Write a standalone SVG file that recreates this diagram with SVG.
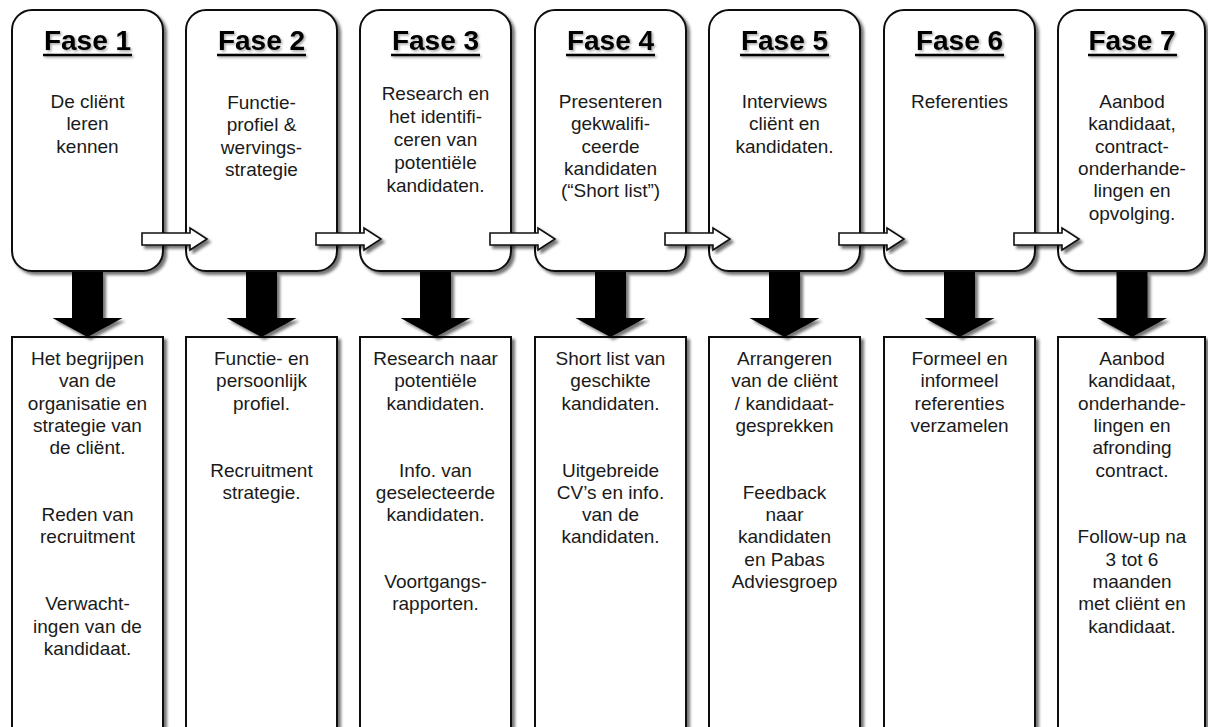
<svg xmlns="http://www.w3.org/2000/svg" width="1208" height="727" viewBox="0 0 1208 727">
<defs>
<filter id="sh" x="-10%" y="-10%" width="130%" height="130%">
<feDropShadow dx="3" dy="3" stdDeviation="1.8" flood-color="#000" flood-opacity="0.55"/>
</filter>
<filter id="tsh" x="-10%" y="-20%" width="130%" height="150%">
<feDropShadow dx="1.5" dy="1.5" stdDeviation="1" flood-color="#000" flood-opacity="0.35"/>
</filter>
<style>
.box{fill:#fff;stroke:#111;stroke-width:2;filter:url(#sh)}
.title{font-family:"Liberation Sans",Arial,sans-serif;font-weight:bold;font-size:28px;fill:#000;text-anchor:middle}
.ul{stroke:#000;stroke-width:2.6}
.t{font-family:"Liberation Sans",Arial,sans-serif;font-size:19px;fill:#1a1a1a;text-anchor:middle}
.down{fill:#000;filter:url(#sh)}
.right{fill:#fff;stroke:#111;stroke-width:1.6;filter:url(#sh)}
</style>
</defs>
<rect width="1208" height="727" fill="#fff"/>

<g id="fase1">
<rect class="box" x="12" y="10" width="151" height="261" rx="20"/>
<g filter="url(#tsh)"><text class="title" x="87.5" y="50">Fase 1</text><line class="ul" x1="43" y1="55" x2="132" y2="55"/></g>
<text class="t"><tspan x="87.5" y="108">De cliënt</tspan><tspan x="87.5" dy="22.3">leren</tspan><tspan x="87.5" dy="22.3">kennen</tspan></text>
</g>
<g id="fase2">
<rect class="box" x="186" y="10" width="151" height="261" rx="20"/>
<g filter="url(#tsh)"><text class="title" x="261.5" y="50">Fase 2</text><line class="ul" x1="217" y1="55" x2="306" y2="55"/></g>
<text class="t"><tspan x="261.5" y="109">Functie-</tspan><tspan x="261.5" dy="22.3">profiel &amp;</tspan><tspan x="261.5" dy="22.3">wervings-</tspan><tspan x="261.5" dy="22.3">strategie</tspan></text>
</g>
<g id="fase3">
<rect class="box" x="360" y="10" width="151" height="261" rx="20"/>
<g filter="url(#tsh)"><text class="title" x="435.5" y="50">Fase 3</text><line class="ul" x1="391" y1="55" x2="480" y2="55"/></g>
<text class="t"><tspan x="435.5" y="100">Research en</tspan><tspan x="435.5" dy="23">het identifi-</tspan><tspan x="435.5" dy="23">ceren van</tspan><tspan x="435.5" dy="23">potentiële</tspan><tspan x="435.5" dy="23">kandidaten.</tspan></text>
</g>
<g id="fase4">
<rect class="box" x="535" y="10" width="151" height="261" rx="20"/>
<g filter="url(#tsh)"><text class="title" x="610.5" y="50">Fase 4</text><line class="ul" x1="566" y1="55" x2="655" y2="55"/></g>
<text class="t"><tspan x="610.5" y="108">Presenteren</tspan><tspan x="610.5" dy="22.3">gekwalifi-</tspan><tspan x="610.5" dy="22.3">ceerde</tspan><tspan x="610.5" dy="22.3">kandidaten</tspan><tspan x="610.5" dy="22.3">(“Short list”)</tspan></text>
</g>
<g id="fase5">
<rect class="box" x="709" y="10" width="151" height="261" rx="20"/>
<g filter="url(#tsh)"><text class="title" x="784.5" y="50">Fase 5</text><line class="ul" x1="740" y1="55" x2="829" y2="55"/></g>
<text class="t"><tspan x="784.5" y="108">Interviews</tspan><tspan x="784.5" dy="22.3">cliënt en</tspan><tspan x="784.5" dy="22.3">kandidaten.</tspan></text>
</g>
<g id="fase6">
<rect class="box" x="884" y="10" width="151" height="261" rx="20"/>
<g filter="url(#tsh)"><text class="title" x="959.5" y="50">Fase 6</text><line class="ul" x1="915" y1="55" x2="1004" y2="55"/></g>
<text class="t"><tspan x="959.5" y="108">Referenties</tspan></text>
</g>
<g id="fase7">
<rect class="box" x="1058" y="10" width="147" height="261" rx="20"/>
<g filter="url(#tsh)"><text class="title" x="1132" y="50">Fase 7</text><line class="ul" x1="1088" y1="55" x2="1177" y2="55"/></g>
<text class="t"><tspan x="1132" y="108">Aanbod</tspan><tspan x="1132" dy="22.3">kandidaat,</tspan><tspan x="1132" dy="22.3">contract-</tspan><tspan x="1132" dy="22.3">onderhande-</tspan><tspan x="1132" dy="22.3">lingen en</tspan><tspan x="1132" dy="22.3">opvolging.</tspan></text>
</g>

<g id="detail1">
<rect class="box" x="12" y="337" width="151" height="400"/>
<text class="t"><tspan x="87.5" y="365">Het begrijpen</tspan><tspan x="87.5" dy="22.3">van de</tspan><tspan x="87.5" dy="22.3">organisatie en</tspan><tspan x="87.5" dy="22.3">strategie van</tspan><tspan x="87.5" dy="22.3">de cliënt.</tspan><tspan x="87.5" dy="66.9">Reden van</tspan><tspan x="87.5" dy="22.3">recruitment</tspan><tspan x="87.5" dy="66.9">Verwacht-</tspan><tspan x="87.5" dy="22.3">ingen van de</tspan><tspan x="87.5" dy="22.3">kandidaat.</tspan></text>
</g>
<g id="detail2">
<rect class="box" x="186" y="337" width="151" height="400"/>
<text class="t"><tspan x="261.5" y="365">Functie- en</tspan><tspan x="261.5" dy="22.3">persoonlijk</tspan><tspan x="261.5" dy="22.3">profiel.</tspan><tspan x="261.5" dy="66.9">Recruitment</tspan><tspan x="261.5" dy="22.3">strategie.</tspan></text>
</g>
<g id="detail3">
<rect class="box" x="360" y="337" width="151" height="400"/>
<text class="t"><tspan x="435.5" y="365">Research naar</tspan><tspan x="435.5" dy="22.3">potentiële</tspan><tspan x="435.5" dy="22.3">kandidaten.</tspan><tspan x="435.5" dy="66.9">Info. van</tspan><tspan x="435.5" dy="22.3">geselecteerde</tspan><tspan x="435.5" dy="22.3">kandidaten.</tspan><tspan x="435.5" dy="66.9">Voortgangs-</tspan><tspan x="435.5" dy="22.3">rapporten.</tspan></text>
</g>
<g id="detail4">
<rect class="box" x="535" y="337" width="151" height="400"/>
<text class="t"><tspan x="610.5" y="365">Short list van</tspan><tspan x="610.5" dy="22.3">geschikte</tspan><tspan x="610.5" dy="22.3">kandidaten.</tspan><tspan x="610.5" dy="66.9">Uitgebreide</tspan><tspan x="610.5" dy="22.3">CV’s en info.</tspan><tspan x="610.5" dy="22.3">van de</tspan><tspan x="610.5" dy="22.3">kandidaten.</tspan></text>
</g>
<g id="detail5">
<rect class="box" x="709" y="337" width="151" height="400"/>
<text class="t"><tspan x="784.5" y="365">Arrangeren</tspan><tspan x="784.5" dy="22.3">van de cliënt</tspan><tspan x="784.5" dy="22.3">/ kandidaat-</tspan><tspan x="784.5" dy="22.3">gesprekken</tspan><tspan x="784.5" dy="66.9">Feedback</tspan><tspan x="784.5" dy="22.3">naar</tspan><tspan x="784.5" dy="22.3">kandidaten</tspan><tspan x="784.5" dy="22.3">en Pabas</tspan><tspan x="784.5" dy="22.3">Adviesgroep</tspan></text>
</g>
<g id="detail6">
<rect class="box" x="884" y="337" width="151" height="400"/>
<text class="t"><tspan x="959.5" y="365">Formeel en</tspan><tspan x="959.5" dy="22.3">informeel</tspan><tspan x="959.5" dy="22.3">referenties</tspan><tspan x="959.5" dy="22.3">verzamelen</tspan></text>
</g>
<g id="detail7">
<rect class="box" x="1058" y="337" width="147" height="400"/>
<text class="t"><tspan x="1132" y="365">Aanbod</tspan><tspan x="1132" dy="22.3">kandidaat,</tspan><tspan x="1132" dy="22.3">onderhande-</tspan><tspan x="1132" dy="22.3">lingen en</tspan><tspan x="1132" dy="22.3">afronding</tspan><tspan x="1132" dy="22.3">contract.</tspan><tspan x="1132" dy="66.9">Follow-up na</tspan><tspan x="1132" dy="22.3">3 tot 6</tspan><tspan x="1132" dy="22.3">maanden</tspan><tspan x="1132" dy="22.3">met cliënt en</tspan><tspan x="1132" dy="22.3">kandidaat.</tspan></text>
</g>

<g id="connectors">
<path class="down" d="M72,272 h31 v46 h19.5 L87.5,337 L52.5,318 h19.5 z"/>
<path class="down" d="M246,272 h31 v46 h19.5 L261.5,337 L226.5,318 h19.5 z"/>
<path class="down" d="M420,272 h31 v46 h19.5 L435.5,337 L400.5,318 h19.5 z"/>
<path class="down" d="M595,272 h31 v46 h19.5 L610.5,337 L575.5,318 h19.5 z"/>
<path class="down" d="M769,272 h31 v46 h19.5 L784.5,337 L749.5,318 h19.5 z"/>
<path class="down" d="M944,272 h31 v46 h19.5 L959.5,337 L924.5,318 h19.5 z"/>
<path class="down" d="M1116.5,272 h31 v46 h19.5 L1132,337 L1097,318 h19.5 z"/>
<path class="right" d="M142,233 h48 v-5 l17,11 l-17,11 v-5 h-48 z"/>
<path class="right" d="M316,233 h48 v-5 l17,11 l-17,11 v-5 h-48 z"/>
<path class="right" d="M490,233 h48 v-5 l17,11 l-17,11 v-5 h-48 z"/>
<path class="right" d="M665,233 h48 v-5 l17,11 l-17,11 v-5 h-48 z"/>
<path class="right" d="M839,233 h48 v-5 l17,11 l-17,11 v-5 h-48 z"/>
<path class="right" d="M1014,233 h48 v-5 l17,11 l-17,11 v-5 h-48 z"/>
</g>
</svg>
